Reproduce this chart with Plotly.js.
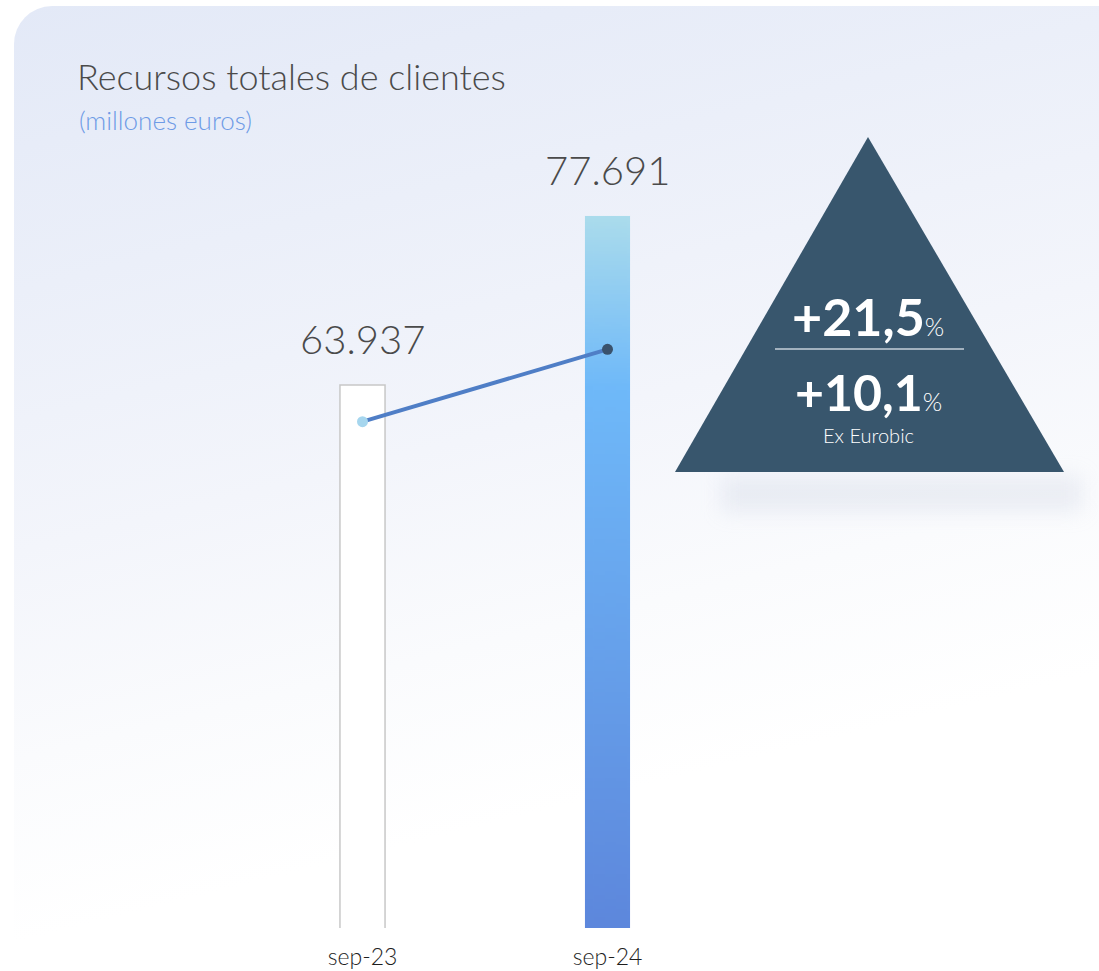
<!DOCTYPE html>
<html>
<head>
<meta charset="utf-8">
<script src="https://cdn.plot.ly/plotly-3.0.1.min.js"></script>
<style>
  html, body { margin: 0; padding: 0; background: #ffffff; overflow: hidden; }
  #wrap { position: relative; width: 1099px; height: 971px; overflow: hidden; }
  #bg { position: absolute; left: 14px; top: 6px; width: 1130px; height: 1020px; border-radius: 38px;
        background: linear-gradient(166deg, #e3e9f7 0%, #ebeff9 22%, #f3f5fb 42%, #fafbfd 58%, #ffffff 72%); }
  #shadow { position: absolute; left: 722px; top: 476px; width: 360px; height: 36px;
            background: rgba(180,190,212,0.22); filter: blur(10px); }
  #chart { position: absolute; left: 0; top: 0; width: 1099px; height: 971px; }
</style>
</head>
<body>
<div id="wrap">
  <div id="bg"></div>
  <div id="shadow"></div>
  <div id="chart"></div>
</div>
<script>
// ---- data ----
const categories = ['sep-23', 'sep-24'];
const totalResources = [63937, 77691];
const trendLine = [60950, 66840];
const growthMain = '+21,5';
const growthExEurobic = '+10,1';
const growthNote = 'Ex Eurobic';
const titleText = 'Recursos totales de clientes';
const subtitleText = '(millones euros)';

// ---- geometry helpers (layout only) ----
const W = 1099, H = 971;
const M = { l: 240, r: 369, t: 100, b: 43 };
const PW = W - M.l - M.r, PH = H - M.t - M.b;
const px = x => (x - M.l) / PW;
const py = y => (H - M.b - y) / PH;
const yRange = [19745, 87130];
const barWidth = 0.184;

function fmt(v) { return String(v).replace(/\B(?=(\d{3})+(?!\d))/g, '.'); }

// gradient image for the highlighted bar
const cv = document.createElement('canvas');
cv.width = 8; cv.height = 400;
const ctx = cv.getContext('2d');
const g = ctx.createLinearGradient(0, 0, 0, 400);
g.addColorStop(0, '#abdcec');
g.addColorStop(0.24, '#6fb9f9');
g.addColorStop(1, '#5d87dc');
ctx.fillStyle = g; ctx.fillRect(0, 0, 8, 400);
const gradSrc = cv.toDataURL();

const bars = {
  type: 'bar',
  x: categories,
  y: totalResources,
  width: barWidth,
  marker: {
    color: ['#ffffff', 'rgba(0,0,0,0)'],
    line: { color: ['#c8c8c8', 'rgba(0,0,0,0)'], width: 1.5 }
  },
  hoverinfo: 'x+y',
  showlegend: false
};

const line = {
  type: 'scatter',
  mode: 'lines+markers',
  x: categories,
  y: trendLine,
  line: { color: '#4f7ec6', width: 4 },
  marker: { size: 11, color: ['#a6d6ee', '#3a526c'] },
  hoverinfo: 'skip',
  showlegend: false
};

const valueAnns = categories.map((c, i) => ({
  x: c, y: totalResources[i], xref: 'x', yref: 'y',
  text: fmt(totalResources[i]), showarrow: false,
  xanchor: 'center', yanchor: 'bottom', yshift: 20,
  font: { family: 'Lato', size: 40, color: '#4a4a4a', weight: 300 }
}));

const triAnns = [
  { x: px(868), y: py(316), xref: 'paper', yref: 'paper', showarrow: false,
    xanchor: 'center', yanchor: 'middle', borderpad: 0,
    text: '<b>' + growthMain + '</b><span style="font-size:25px;font-weight:300">%</span>',
    font: { family: 'Lato', size: 52, color: '#ffffff' } },
  { x: px(868), y: py(392), xref: 'paper', yref: 'paper', showarrow: false,
    xanchor: 'center', yanchor: 'middle', borderpad: 0,
    text: '<b>' + growthExEurobic + '</b><span style="font-size:25px;font-weight:300">%</span>',
    font: { family: 'Lato', size: 50, color: '#ffffff' } },
  { x: px(868), y: py(435), xref: 'paper', yref: 'paper', showarrow: false,
    xanchor: 'center', yanchor: 'middle', borderpad: 0,
    text: growthNote,
    font: { family: 'Lato', size: 20, color: '#ffffff', weight: 300 } },
  { x: px(77), y: py(120), xref: 'paper', yref: 'paper', showarrow: false,
    xanchor: 'left', yanchor: 'middle',
    text: subtitleText,
    font: { family: 'Lato', size: 26, color: '#6e9be6', weight: 300 } }
];

const layout = {
  width: W, height: H,
  margin: M,
  paper_bgcolor: 'rgba(0,0,0,0)',
  plot_bgcolor: 'rgba(0,0,0,0)',
  title: {
    text: titleText,
    x: 77 / W, xref: 'container', xanchor: 'left',
    y: 1 - 65 / H, yref: 'container', yanchor: 'top',
    font: { family: 'Lato', size: 36, color: '#4a4a4a', weight: 300 }
  },
  xaxis: {
    type: 'category',
    range: [-0.5, 1.5],
    showgrid: false, zeroline: false, showline: false, ticks: '',
    tickfont: { family: 'Lato', size: 23, color: '#1e1e1e', weight: 300 },
    ticklabelstandoff: 13,
    fixedrange: true
  },
  yaxis: {
    range: yRange,
    visible: false,
    showgrid: false, zeroline: false,
    fixedrange: true
  },
  bargap: 0,
  images: [{
    source: gradSrc, xref: 'x', yref: 'y',
    x: categories[1], y: totalResources[1],
    sizex: barWidth, sizey: totalResources[1] - yRange[0],
    xanchor: 'center', yanchor: 'top', sizing: 'stretch', layer: 'below'
  }],
  shapes: [
    { type: 'path', xref: 'paper', yref: 'paper',
      path: 'M ' + px(868) + ' ' + py(137) + ' L ' + px(1064) + ' ' + py(472) + ' L ' + px(675) + ' ' + py(472) + ' Z',
      fillcolor: '#38566d', line: { width: 0 }, layer: 'below' },
    { type: 'line', xref: 'paper', yref: 'paper',
      x0: px(775), x1: px(964), y0: py(349), y1: py(349),
      line: { color: '#c6d0da', width: 1.5 } }
  ],
  annotations: valueAnns.concat(triAnns),
  showlegend: false
};

Plotly.newPlot('chart', [bars, line], layout, { displayModeBar: false, staticPlot: true });
</script>
</body>
</html>
